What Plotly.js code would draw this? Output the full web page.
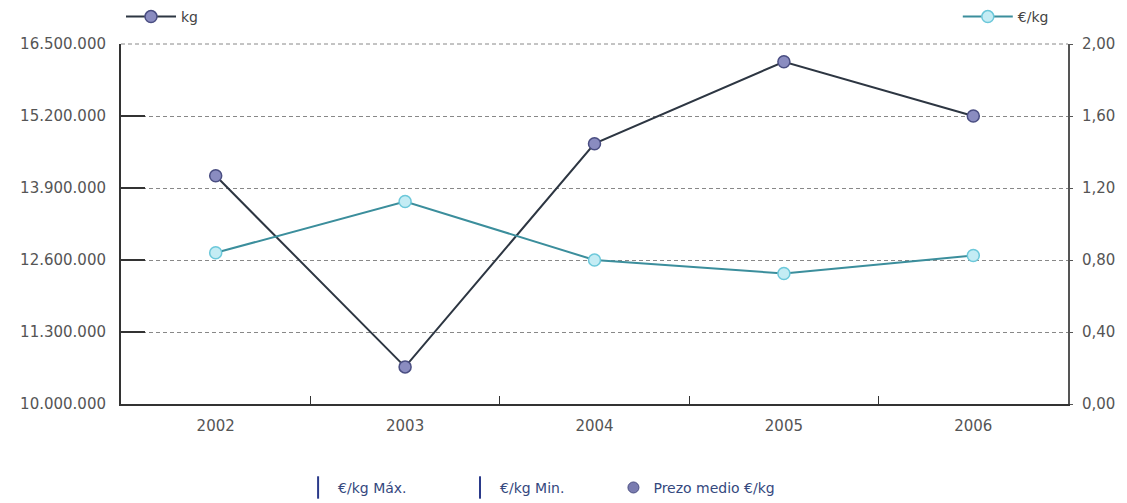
<!DOCTYPE html>
<html><head><meta charset="utf-8">
<script src="https://cdn.plot.ly/plotly-3.0.1.min.js"></script>
<style>html,body{margin:0;padding:0;background:#fff}#chart{width:1127px;height:503px}</style>
</head><body><div id="chart"></div>
<script>
const years = ['2002','2003','2004','2005','2006'];
const kgValues = [14120000, 10670000, 14700000, 16180000, 15200000];
const priceValues = [0.84, 1.125, 0.80, 0.725, 0.825];
const kgTicks = [10000000, 11300000, 12600000, 13900000, 15200000, 16500000];
const priceTicks = [0, 0.4, 0.8, 1.2, 1.6, 2.0];

const FONT = 'DejaVu Sans, Verdana, sans-serif';
const tickFont = {family: FONT, size: 15, color: '#555'};
const bottomLegendFont = {family: FONT, size: 14, color: '#34487e'};

const traces = [
  {x: years, y: kgValues, name: 'kg', type: 'scatter', mode: 'lines+markers',
   line: {color: '#2d3642', width: 2},
   marker: {size: 12, color: '#8a8cc0', line: {color: '#4a4e82', width: 1.5}},
   legend: 'legend', yaxis: 'y'},
  {x: years, y: priceValues, name: '€/kg', type: 'scatter', mode: 'lines+markers',
   line: {color: '#3b8e9c', width: 2},
   marker: {size: 12, color: '#c4ecf4', line: {color: '#6cc8da', width: 1.5}},
   legend: 'legend2', yaxis: 'y2'},
  {x: [null], y: [null], name: '€/kg Máx.', type: 'scatter', mode: 'markers',
   marker: {symbol: 'line-ns', size: 16, line: {color: '#2a3a8a', width: 2}},
   legend: 'legend3', yaxis: 'y2'},
  {x: [null], y: [null], name: '€/kg Min.', type: 'scatter', mode: 'markers',
   marker: {symbol: 'line-ns', size: 16, line: {color: '#2a3a8a', width: 2}},
   legend: 'legend4', yaxis: 'y2'},
  {x: [null], y: [null], name: 'Prezo medio €/kg', type: 'scatter', mode: 'markers',
   marker: {size: 11, color: '#7a7cb0', line: {color: '#4a4e82', width: 1}},
   legend: 'legend5', yaxis: 'y2'}
];

function bottomLegend(x) {
  return {x: x, xanchor: 'left', y: -0.233, yanchor: 'middle', orientation: 'h',
          font: bottomLegendFont, bgcolor: 'rgba(0,0,0,0)', itemwidth: 30};
}

const layout = {
  width: 1127, height: 503,
  margin: {l: 121, r: 59, t: 44, b: 99, autoexpand: false},
  paper_bgcolor: '#fff', plot_bgcolor: '#fff',
  font: {family: FONT, size: 14, color: '#555'},
  separators: ',.',
  showlegend: true,
  xaxis: {type: 'category', range: [-0.5, 4.5], showline: true, linecolor: '#333', linewidth: 2,
          ticks: 'inside', tickson: 'boundaries', ticklen: 8, tickcolor: '#333',
          showgrid: false, tickfont: tickFont, ticklabelstandoff: 7},
  yaxis: {range: [10000000, 16500000], tickvals: kgTicks, tickformat: ',.0f',
          showline: true, linecolor: '#333', linewidth: 2,
          ticks: 'inside', ticklen: 24, tickcolor: '#333', tickwidth: 2,
          showgrid: true, gridcolor: '#888', griddash: '4px,3px', gridwidth: 1,
          zeroline: false, ticklabelstandoff: 10, tickfont: tickFont},
  yaxis2: {range: [0, 2], tickvals: priceTicks, tickformat: '.2f', overlaying: 'y', side: 'right',
           showline: true, linecolor: '#555', linewidth: 2, showgrid: false, zeroline: false,
           ticks: 'outside', ticklen: 3, tickcolor: '#555', ticklabelstandoff: 6, tickfont: tickFont},
  shapes: [{type: 'line', xref: 'paper', yref: 'paper', x0: 0, x1: 1, y0: 1, y1: 1,
            line: {color: '#888', width: 1, dash: '4px,3px'}}],
  legend: {x: 0, xanchor: 'left', y: 1.075, yanchor: 'middle', orientation: 'h',
           font: {family: FONT, size: 14, color: '#444'}, bgcolor: 'rgba(0,0,0,0)', itemwidth: 50},
  legend2: {x: 0.985, xanchor: 'right', y: 1.075, yanchor: 'middle', orientation: 'h',
            font: {family: FONT, size: 14, color: '#444'}, bgcolor: 'rgba(0,0,0,0)', itemwidth: 50},
  legend3: bottomLegend(0.187),
  legend4: bottomLegend(0.358),
  legend5: bottomLegend(0.52)
};

Plotly.newPlot('chart', traces, layout, {displayModeBar: false, staticPlot: true});
</script></body></html>
